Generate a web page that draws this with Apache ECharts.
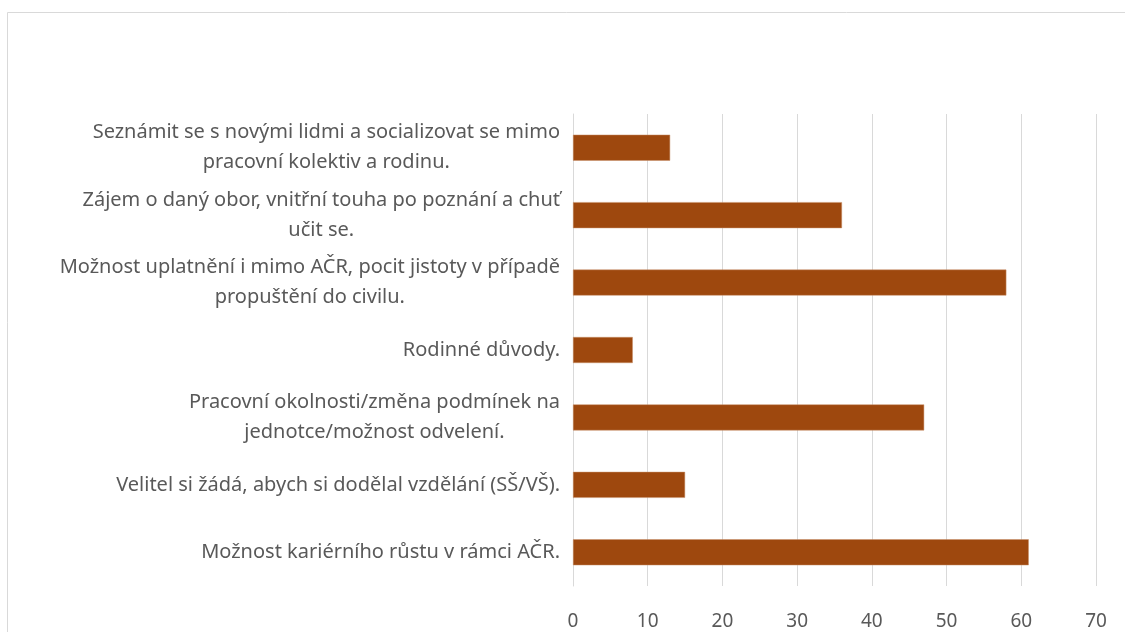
<!DOCTYPE html>
<html>
<head>
<meta charset="utf-8">
<script src="https://cdn.jsdelivr.net/npm/echarts@6/dist/echarts.min.js"></script>
<style>
html,body{margin:0;padding:0;background:#fff;}
#chart{width:1125px;height:632px;}
</style>
</head>
<body>
<div id="chart"></div>
<script>
// kategorie (odshora dolů)
var categories = [
	"Seznámit se s novými lidmi a socializovat se mimo\npracovní kolektiv a rodinu.",
	"Zájem o daný obor, vnitřní touha po poznání a chuť\nučit se.",
	"Možnost uplatnění i mimo AČR, pocit jistoty v případě\npropuštění do civilu.",
	"Rodinné důvody.",
	"Pracovní okolnosti/změna podmínek na\njednotce/možnost odvelení.",
	"Velitel si žádá, abych si dodělal vzdělání (SŠ/VŠ).",
	"Možnost kariérního růstu v rámci AČR."
];
var values = [13, 36, 58, 8, 47, 15, 61];
var xTicks = [0, 10, 20, 30, 40, 50, 60, 70];

var textColor = '#595959';
var fontFamily = 'Noto Sans';

var chart = echarts.init(document.getElementById('chart'));
var option = {
	backgroundColor: '#fff',
	animation: false,
	graphic: [{
		type: 'rect',
		shape: { x: 7.5, y: 12.5, width: 1200, height: 700 },
		style: { fill: 'none', stroke: '#d9d9d9', lineWidth: 1 },
		silent: true
	}],
	grid: {
		left: 573,
		right: 29,
		top: 114,
		bottom: 46
	},
	xAxis: {
		type: 'value',
		min: xTicks[0],
		max: xTicks[xTicks.length - 1],
		interval: 10,
		axisLine: { show: false },
		axisTick: { show: false },
		splitLine: { show: true, lineStyle: { color: '#d9d9d9', width: 1 } },
		axisLabel: {
			color: textColor,
			fontSize: 19,
			fontFamily: fontFamily,
			margin: 26
		}
	},
	yAxis: {
		type: 'category',
		inverse: true,
		data: categories,
		axisLine: { show: true, lineStyle: { color: '#d9d9d9' } },
		axisTick: { show: false },
		axisLabel: {
			margin: 13,
			color: textColor,
			fontSize: 20,
			fontFamily: fontFamily,
			lineHeight: 30,
			formatter: function (v) {
				// každý řádek vycentrovat v rámci bloku
				return v.split('\n').map(function (s) { return '{c|' + s + '}'; }).join('\n');
			},
			rich: {
				c: {
					align: 'center',
					color: textColor,
					fontSize: 20,
					fontFamily: fontFamily,
					lineHeight: 30
				}
			}
		}
	},
	series: [{
		type: 'bar',
		data: values,
		barWidth: 26,
		itemStyle: {
			color: '#9e480e',
			borderColor: '#c9906a',
			borderWidth: 0.5
		}
	}]
};
chart.setOption(option);
</script>
</body>
</html>
